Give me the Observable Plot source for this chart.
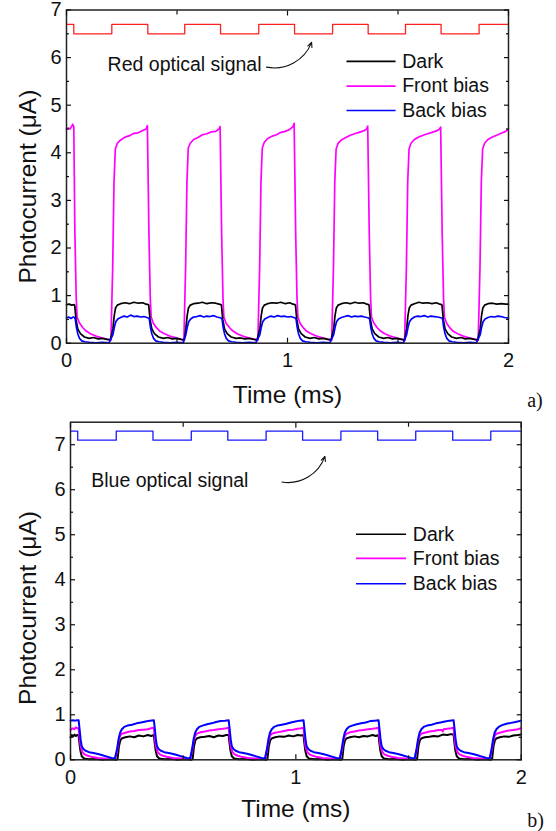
<!DOCTYPE html>
<html>
<head>
<meta charset="utf-8">
<script src="https://cdn.jsdelivr.net/npm/d3@7"></script>
<script src="https://cdn.jsdelivr.net/npm/@observablehq/plot@0.6"></script>
<style>
  body { margin: 0; background: #fff; }
  #chart svg { display: block; }
</style>
</head>
<body>
<div id="chart"></div>
<script>
// ---------- DATA ----------
const seriesNames = ["Dark", "Front bias", "Back bias"];
const xTickLabels = [0, 1, 2];
const yTicksA = [0, 1, 2, 3, 4, 5, 6, 7];
const yTicksB = [0, 1, 2, 3, 4, 5, 6, 7];
const signalLabelA = "Red optical signal";
const signalLabelB = "Blue optical signal";

// optical signal switching times (ms) and levels (µA scale)
const redT = [0, 0.033, 0.205, 0.368, 0.535, 0.697, 0.870, 1.032, 1.204, 1.365, 1.534, 1.695, 1.867, 2];
const redV = [6.7, 6.5, 6.7, 6.5, 6.7, 6.5, 6.7, 6.5, 6.7, 6.5, 6.7, 6.5, 6.7, 6.7];
const blueT = [0, 0.032, 0.203, 0.366, 0.536, 0.698, 0.868, 1.030, 1.200, 1.363, 1.532, 1.696, 1.865, 2];
const blueV = [7.3, 7.1, 7.3, 7.1, 7.3, 7.1, 7.3, 7.1, 7.3, 7.1, 7.3, 7.1, 7.3, 7.3];

// Panel a) red light
const frontA = [[0,4.5],[0.008,4.52],[0.016,4.5],[0.024,4.56],[0.028,4.6],[0.033,4.55],
[0.038,2.3],[0.044,0.95],[0.048,0.55],[0.058,0.43],[0.073,0.33],[0.088,0.26],[0.108,0.2],[0.133,0.15],[0.163,0.11],[0.188,0.08],[0.201,0.06],
[0.209,1.6],[0.215,3.4],[0.221,4.08],[0.23,4.2],[0.245,4.27],[0.265,4.33],[0.285,4.36],[0.305,4.41],[0.325,4.42],[0.345,4.47],[0.36,4.5],[0.366,4.57],
[0.373,2.3],[0.379,0.95],[0.383,0.55],[0.393,0.42],[0.408,0.32],[0.423,0.25],[0.443,0.2],[0.468,0.15],[0.498,0.11],[0.52,0.08],[0.531,0.05],
[0.539,1.6],[0.545,3.4],[0.551,4.1],[0.56,4.2],[0.575,4.28],[0.595,4.32],[0.615,4.38],[0.635,4.4],[0.655,4.44],[0.675,4.45],[0.69,4.5],[0.695,4.55],
[0.702,2.3],[0.708,0.95],[0.712,0.55],[0.722,0.42],[0.737,0.33],[0.752,0.26],[0.772,0.2],[0.797,0.15],[0.827,0.11],[0.852,0.08],[0.866,0.06],
[0.874,1.6],[0.88,3.4],[0.886,4.1],[0.895,4.22],[0.91,4.3],[0.93,4.35],[0.95,4.38],[0.97,4.43],[0.99,4.45],[1.01,4.49],[1.025,4.55],[1.03,4.62],
[1.037,2.3],[1.043,0.95],[1.047,0.55],[1.057,0.42],[1.072,0.32],[1.087,0.25],[1.107,0.2],[1.132,0.15],[1.162,0.11],[1.187,0.08],[1.2,0.06],
[1.208,1.6],[1.214,3.4],[1.22,4.08],[1.229,4.2],[1.244,4.27],[1.264,4.32],[1.284,4.37],[1.304,4.4],[1.324,4.43],[1.344,4.46],[1.358,4.5],[1.363,4.56],
[1.37,2.3],[1.376,0.95],[1.38,0.55],[1.39,0.43],[1.405,0.33],[1.42,0.26],[1.44,0.2],[1.465,0.15],[1.495,0.11],[1.52,0.08],[1.53,0.06],
[1.538,1.6],[1.544,3.4],[1.55,4.08],[1.559,4.2],[1.574,4.28],[1.594,4.33],[1.614,4.37],[1.634,4.4],[1.654,4.43],[1.674,4.46],[1.688,4.5],[1.693,4.54],
[1.7,2.3],[1.706,0.95],[1.71,0.55],[1.72,0.42],[1.735,0.32],[1.75,0.25],[1.77,0.2],[1.795,0.15],[1.825,0.11],[1.85,0.08],[1.863,0.06],
[1.871,1.6],[1.877,3.4],[1.883,4.08],[1.892,4.2],[1.907,4.28],[1.927,4.33],[1.947,4.37],[1.967,4.41],[1.987,4.45],[2,4.5]];

const darkA = [[0,0.81],[0.012,0.82],[0.024,0.8],[0.034,0.81],
[0.037,0.8],[0.043,0.5],[0.051,0.3],[0.063,0.2],[0.081,0.13],[0.103,0.1],[0.123,0.12],[0.143,0.09],[0.163,0.1],[0.183,0.08],[0.198,0.07],
[0.21,0.3],[0.216,0.58],[0.222,0.74],[0.23,0.8],[0.245,0.83],[0.265,0.85],[0.285,0.83],[0.305,0.86],[0.325,0.84],[0.345,0.85],[0.36,0.82],[0.37,0.81],
[0.372,0.8],[0.378,0.5],[0.386,0.3],[0.398,0.2],[0.416,0.13],[0.438,0.1],[0.458,0.12],[0.478,0.09],[0.498,0.1],[0.518,0.08],[0.533,0.07],
[0.54,0.3],[0.546,0.58],[0.552,0.74],[0.56,0.8],[0.575,0.83],[0.595,0.84],[0.615,0.86],[0.635,0.83],[0.655,0.85],[0.675,0.84],[0.69,0.82],[0.699,0.81],
[0.701,0.8],[0.707,0.5],[0.715,0.3],[0.727,0.2],[0.745,0.13],[0.767,0.1],[0.787,0.11],[0.807,0.09],[0.827,0.1],[0.847,0.08],[0.862,0.07],
[0.875,0.3],[0.881,0.58],[0.887,0.74],[0.895,0.8],[0.91,0.83],[0.93,0.85],[0.95,0.84],[0.97,0.86],[0.99,0.83],[1.01,0.85],[1.025,0.82],[1.034,0.81],
[1.036,0.8],[1.042,0.5],[1.05,0.3],[1.062,0.2],[1.08,0.13],[1.102,0.1],[1.122,0.12],[1.142,0.09],[1.162,0.1],[1.182,0.08],[1.197,0.07],
[1.209,0.3],[1.215,0.58],[1.221,0.74],[1.229,0.8],[1.244,0.83],[1.264,0.85],[1.284,0.83],[1.304,0.86],[1.324,0.84],[1.344,0.85],[1.359,0.82],[1.367,0.81],
[1.369,0.8],[1.375,0.5],[1.383,0.3],[1.395,0.2],[1.413,0.13],[1.435,0.1],[1.455,0.12],[1.475,0.09],[1.495,0.1],[1.515,0.08],[1.53,0.07],
[1.539,0.3],[1.545,0.58],[1.551,0.74],[1.559,0.8],[1.574,0.83],[1.594,0.86],[1.614,0.84],[1.634,0.85],[1.654,0.83],[1.674,0.85],[1.689,0.82],[1.697,0.81],
[1.699,0.8],[1.705,0.5],[1.713,0.3],[1.725,0.2],[1.743,0.13],[1.765,0.1],[1.785,0.12],[1.805,0.09],[1.825,0.1],[1.845,0.08],[1.86,0.07],
[1.872,0.3],[1.878,0.58],[1.884,0.74],[1.892,0.8],[1.907,0.83],[1.927,0.84],[1.947,0.82],[1.967,0.83],[1.987,0.82],[2,0.82]];

const backA = [[0,0.53],[0.01,0.55],[0.02,0.52],[0.03,0.55],[0.036,0.54],
[0.04,0.5],[0.045,0.33],[0.051,0.2],[0.059,0.1],[0.069,0.05],[0.083,0.03],[0.103,0.02],[0.133,0.01],[0.163,0.02],[0.193,0.01],
[0.21,0.18],[0.216,0.33],[0.223,0.45],[0.232,0.51],[0.245,0.54],[0.26,0.57],[0.275,0.55],[0.29,0.59],[0.305,0.56],[0.32,0.57],[0.335,0.55],[0.35,0.56],[0.371,0.53],
[0.375,0.5],[0.38,0.33],[0.386,0.2],[0.394,0.1],[0.404,0.05],[0.418,0.03],[0.438,0.02],[0.468,0.01],[0.498,0.02],[0.528,0.01],
[0.54,0.18],[0.546,0.33],[0.553,0.45],[0.562,0.51],[0.575,0.55],[0.59,0.56],[0.605,0.58],[0.62,0.55],[0.635,0.57],[0.65,0.56],[0.665,0.58],[0.68,0.55],[0.7,0.53],
[0.704,0.5],[0.709,0.33],[0.715,0.2],[0.723,0.1],[0.733,0.05],[0.747,0.03],[0.767,0.02],[0.797,0.01],[0.827,0.02],[0.857,0.01],
[0.875,0.18],[0.881,0.33],[0.888,0.45],[0.897,0.51],[0.91,0.54],[0.925,0.57],[0.94,0.55],[0.955,0.58],[0.97,0.56],[0.985,0.57],[1.0,0.55],[1.015,0.56],[1.035,0.53],
[1.039,0.5],[1.044,0.33],[1.05,0.2],[1.058,0.1],[1.068,0.05],[1.082,0.03],[1.102,0.02],[1.132,0.01],[1.162,0.02],[1.192,0.01],
[1.209,0.18],[1.215,0.33],[1.222,0.45],[1.231,0.51],[1.244,0.54],[1.259,0.56],[1.274,0.58],[1.289,0.55],[1.304,0.57],[1.319,0.56],[1.334,0.57],[1.349,0.55],[1.368,0.53],
[1.372,0.5],[1.377,0.33],[1.383,0.2],[1.391,0.1],[1.401,0.05],[1.415,0.03],[1.435,0.02],[1.465,0.01],[1.495,0.02],[1.525,0.01],
[1.539,0.18],[1.545,0.33],[1.552,0.45],[1.561,0.51],[1.574,0.55],[1.589,0.57],[1.604,0.56],[1.619,0.58],[1.634,0.55],[1.649,0.57],[1.664,0.56],[1.679,0.55],[1.698,0.53],
[1.702,0.5],[1.707,0.33],[1.713,0.2],[1.721,0.1],[1.731,0.05],[1.745,0.03],[1.765,0.02],[1.795,0.01],[1.825,0.02],[1.855,0.01],
[1.872,0.18],[1.878,0.33],[1.885,0.45],[1.894,0.51],[1.907,0.54],[1.922,0.56],[1.937,0.55],[1.952,0.57],[1.967,0.56],[1.982,0.54],[2,0.53]];

// Panel b) blue light
const darkB = [[0,0.5],[0.006,0.55],[0.012,0.52],[0.018,0.56],[0.024,0.53],[0.03,0.55],[0.036,0.54],
[0.039,0.4],[0.044,0.2],[0.05,0.08],[0.06,0.03],[0.082,0.01],[0.112,0.02],[0.142,0.0],[0.172,0.01],[0.203,0.0],
[0.209,0.02],[0.215,0.3],[0.221,0.43],[0.229,0.48],[0.243,0.5],[0.263,0.52],[0.283,0.5],[0.303,0.54],[0.323,0.52],[0.343,0.55],[0.358,0.53],[0.37,0.55],
[0.373,0.4],[0.378,0.2],[0.384,0.08],[0.394,0.03],[0.416,0.01],[0.446,0.02],[0.476,0.0],[0.506,0.01],[0.536,0.0],
[0.542,0.02],[0.548,0.3],[0.554,0.43],[0.562,0.48],[0.576,0.5],[0.596,0.51],[0.616,0.53],[0.636,0.5],[0.656,0.54],[0.676,0.53],[0.691,0.55],[0.702,0.55],
[0.705,0.4],[0.71,0.2],[0.716,0.08],[0.726,0.03],[0.748,0.01],[0.778,0.02],[0.808,0.0],[0.838,0.01],[0.868,0.0],
[0.874,0.02],[0.88,0.3],[0.886,0.43],[0.894,0.48],[0.908,0.5],[0.928,0.52],[0.948,0.51],[0.968,0.54],[0.988,0.52],[1.008,0.55],[1.023,0.54],[1.034,0.55],
[1.037,0.4],[1.042,0.2],[1.048,0.08],[1.058,0.03],[1.08,0.01],[1.11,0.02],[1.14,0.0],[1.17,0.01],[1.2,0.0],
[1.206,0.02],[1.212,0.3],[1.218,0.43],[1.226,0.48],[1.24,0.5],[1.26,0.52],[1.28,0.5],[1.3,0.53],[1.32,0.52],[1.34,0.55],[1.355,0.53],[1.367,0.55],
[1.37,0.4],[1.375,0.2],[1.381,0.08],[1.391,0.03],[1.413,0.01],[1.443,0.02],[1.473,0.0],[1.503,0.01],[1.532,0.0],
[1.538,0.02],[1.544,0.3],[1.55,0.43],[1.558,0.48],[1.572,0.5],[1.592,0.51],[1.612,0.53],[1.632,0.52],[1.652,0.56],[1.672,0.55],[1.688,0.57],[1.7,0.56],
[1.703,0.4],[1.708,0.2],[1.714,0.08],[1.724,0.03],[1.746,0.01],[1.776,0.02],[1.806,0.0],[1.836,0.01],[1.865,0.0],
[1.871,0.02],[1.877,0.3],[1.883,0.43],[1.891,0.48],[1.905,0.5],[1.925,0.52],[1.945,0.51],[1.965,0.54],[1.985,0.55],[2,0.56]];

const frontB = [[0,0.66],[0.008,0.7],[0.016,0.68],[0.024,0.72],[0.03,0.7],[0.036,0.7],
[0.04,0.5],[0.045,0.3],[0.052,0.18],[0.062,0.12],[0.077,0.09],[0.097,0.06],[0.122,0.04],[0.152,0.03],[0.182,0.02],[0.198,0.02],
[0.207,0.2],[0.213,0.4],[0.22,0.53],[0.228,0.58],[0.243,0.6],[0.263,0.63],[0.283,0.64],[0.303,0.66],[0.323,0.67],[0.343,0.68],[0.358,0.7],[0.37,0.71],
[0.374,0.5],[0.379,0.3],[0.386,0.18],[0.396,0.12],[0.411,0.09],[0.431,0.06],[0.456,0.04],[0.486,0.03],[0.516,0.02],[0.531,0.02],
[0.54,0.2],[0.546,0.4],[0.553,0.53],[0.561,0.58],[0.576,0.61],[0.596,0.63],[0.616,0.65],[0.636,0.66],[0.656,0.68],[0.676,0.69],[0.691,0.7],[0.702,0.71],
[0.706,0.5],[0.711,0.3],[0.718,0.18],[0.728,0.12],[0.743,0.09],[0.763,0.06],[0.788,0.04],[0.818,0.03],[0.848,0.02],[0.863,0.02],
[0.872,0.2],[0.878,0.4],[0.885,0.53],[0.893,0.58],[0.908,0.6],[0.928,0.62],[0.948,0.64],[0.968,0.66],[0.988,0.67],[1.008,0.69],[1.023,0.7],[1.034,0.71],
[1.038,0.5],[1.043,0.3],[1.05,0.18],[1.06,0.12],[1.075,0.09],[1.095,0.06],[1.12,0.04],[1.15,0.03],[1.18,0.02],[1.195,0.02],
[1.204,0.2],[1.21,0.4],[1.217,0.53],[1.225,0.58],[1.24,0.61],[1.26,0.63],[1.28,0.65],[1.3,0.66],[1.32,0.68],[1.34,0.69],[1.355,0.7],[1.367,0.71],
[1.371,0.5],[1.376,0.3],[1.383,0.18],[1.393,0.12],[1.408,0.09],[1.428,0.06],[1.453,0.04],[1.483,0.03],[1.513,0.02],[1.527,0.02],
[1.536,0.2],[1.542,0.4],[1.549,0.53],[1.557,0.58],[1.572,0.6],[1.592,0.63],[1.612,0.64],[1.632,0.66],[1.648,0.66],[1.652,0.63],[1.656,0.68],[1.672,0.69],[1.688,0.7],[1.7,0.71],
[1.704,0.5],[1.709,0.3],[1.716,0.18],[1.726,0.12],[1.741,0.09],[1.761,0.06],[1.786,0.04],[1.816,0.03],[1.846,0.02],[1.86,0.02],
[1.869,0.2],[1.875,0.4],[1.882,0.53],[1.89,0.58],[1.905,0.6],[1.925,0.63],[1.945,0.65],[1.965,0.66],[1.985,0.68],[2,0.7]];

const backB = [[0,0.87],[0.01,0.88],[0.02,0.87],[0.03,0.88],[0.036,0.88],
[0.04,0.7],[0.045,0.45],[0.05,0.3],[0.057,0.24],[0.067,0.2],[0.082,0.17],[0.102,0.15],[0.122,0.13],[0.142,0.1],[0.162,0.07],[0.182,0.04],[0.197,0.03],
[0.207,0.25],[0.213,0.45],[0.22,0.6],[0.228,0.68],[0.238,0.73],[0.253,0.76],[0.273,0.78],[0.293,0.81],[0.313,0.83],[0.333,0.85],[0.353,0.87],[0.37,0.88],
[0.374,0.7],[0.379,0.45],[0.384,0.3],[0.391,0.24],[0.401,0.2],[0.416,0.17],[0.436,0.15],[0.456,0.13],[0.476,0.1],[0.496,0.07],[0.516,0.04],[0.531,0.03],
[0.54,0.25],[0.546,0.45],[0.553,0.6],[0.561,0.68],[0.571,0.73],[0.586,0.76],[0.606,0.79],[0.626,0.81],[0.646,0.84],[0.666,0.86],[0.686,0.87],[0.702,0.88],
[0.706,0.7],[0.711,0.45],[0.716,0.3],[0.723,0.24],[0.733,0.2],[0.748,0.17],[0.768,0.15],[0.788,0.13],[0.808,0.1],[0.828,0.07],[0.848,0.04],[0.863,0.03],
[0.872,0.25],[0.878,0.45],[0.885,0.6],[0.893,0.68],[0.903,0.73],[0.918,0.76],[0.938,0.78],[0.958,0.8],[0.978,0.83],[0.998,0.85],[1.018,0.87],[1.034,0.88],
[1.038,0.7],[1.043,0.45],[1.048,0.3],[1.055,0.24],[1.065,0.2],[1.08,0.17],[1.1,0.15],[1.12,0.13],[1.14,0.1],[1.16,0.07],[1.18,0.04],[1.195,0.03],
[1.204,0.25],[1.21,0.45],[1.217,0.6],[1.225,0.68],[1.235,0.73],[1.25,0.76],[1.27,0.79],[1.29,0.81],[1.31,0.83],[1.33,0.86],[1.35,0.87],[1.367,0.88],
[1.371,0.7],[1.376,0.45],[1.381,0.3],[1.388,0.24],[1.398,0.2],[1.413,0.17],[1.433,0.15],[1.453,0.13],[1.473,0.1],[1.493,0.07],[1.513,0.04],[1.527,0.03],
[1.536,0.25],[1.542,0.45],[1.549,0.6],[1.557,0.68],[1.567,0.73],[1.582,0.76],[1.602,0.78],[1.622,0.81],[1.642,0.83],[1.662,0.85],[1.682,0.87],[1.7,0.88],
[1.704,0.7],[1.709,0.45],[1.714,0.3],[1.721,0.24],[1.731,0.2],[1.746,0.17],[1.766,0.15],[1.786,0.13],[1.806,0.1],[1.826,0.07],[1.846,0.04],[1.86,0.03],
[1.869,0.25],[1.875,0.45],[1.882,0.6],[1.89,0.68],[1.9,0.73],[1.915,0.77],[1.935,0.8],[1.955,0.82],[1.975,0.84],[2,0.87]];

// ---------- DRAWING ----------
const COLORS = {"Dark": "#000000", "Front bias": "#ff00ff", "Back bias": "#0000ff"};
const FONT = "'Liberation Sans', Arial, Helvetica, sans-serif";
const fmt = d => String(d);

function rows(arr) { return arr.map(([t, v]) => ({t, v})); }

function panel(cfg) {
  const marks = [];
  marks.push(Plot.line(cfg.sigT.map((t, i) => ({t, v: cfg.sigV[i]})),
    {x: "t", y: "v", curve: "step-after", stroke: cfg.sigColor, strokeWidth: 1.3}));
  for (const [name, arr] of cfg.series) {
    marks.push(Plot.line(rows(arr), {x: "t", y: "v", stroke: COLORS[name], strokeWidth: cfg.traceWidth}));
  }
  seriesNames.forEach((name, i) => {
    marks.push(Plot.link([name], {x1: cfg.legX1, x2: cfg.legX2, y1: cfg.legY[i], y2: cfg.legY[i],
      stroke: COLORS[name], strokeWidth: 1.6}));
    marks.push(Plot.text([name], {x: cfg.legTX, y: cfg.legY[i], text: d => d, textAnchor: "start",
      lineAnchor: "middle", fontSize: 19.5, fill: "#111"}));
  });
  marks.push(Plot.text([cfg.sigLabel], {x: cfg.sigLX, y: cfg.sigLY, text: d => d, textAnchor: "start",
    lineAnchor: "middle", fontSize: 19.5, fill: "#111"}));
  marks.push(Plot.arrow([0], {x1: cfg.arr[0], y1: cfg.arr[1], x2: cfg.arr[2], y2: cfg.arr[3],
    bend: cfg.bend, stroke: "#111", strokeWidth: 1.1, headLength: 7, headAngle: 50}));
  marks.push(Plot.frame({stroke: "#222", strokeWidth: 1.5}));
  marks.push(Plot.axisY({anchor: "left", ticks: cfg.yTicks, tickSize: 0, tickPadding: 5, label: null,
    fontSize: 20, tickFormat: fmt}));
  marks.push(Plot.axisX({anchor: "bottom", ticks: xTickLabels, tickSize: 0, tickPadding: 10, label: null,
    fontSize: 20, tickFormat: fmt}));
  const yMinor = cfg.yTicks.slice(0, -1).map(d => d + 0.5);
  for (const a of ["left", "right"]) {
    marks.push(Plot.axisY({anchor: a, ticks: cfg.yTicks, tickSize: -5, tickFormat: () => "", label: null, strokeWidth: 1.2}));
    marks.push(Plot.axisY({anchor: a, ticks: yMinor, tickSize: -3, tickFormat: () => "", label: null, strokeWidth: 1.2}));
  }
  for (const a of ["top", "bottom"]) {
    marks.push(Plot.axisX({anchor: a, ticks: xTickLabels, tickSize: -5, tickFormat: () => "", label: null, strokeWidth: 1.2}));
    marks.push(Plot.axisX({anchor: a, ticks: [0.5, 1.5], tickSize: -4, tickFormat: () => "", label: null, strokeWidth: 1.2}));
  }
  marks.push(Plot.text(["Photocurrent (\u03bcA)"], {frameAnchor: "left", rotate: -90, dx: cfg.yTitleDx, dy: cfg.yTitleDy,
    textAnchor: "middle", lineAnchor: "middle", text: d => d, fontSize: 24.5, fill: "#111"}));
  marks.push(Plot.text(["Time (ms)"], {frameAnchor: "bottom", dy: cfg.xTitleDy, textAnchor: "middle", lineAnchor: "middle",
    text: d => d, fontSize: 24.5, fill: "#111"}));
  marks.push(Plot.text([cfg.tag], {frameAnchor: "bottom-right", textAnchor: "start", lineAnchor: "bottom",
    dx: cfg.tagDx, dy: cfg.tagDy, text: d => d, fontSize: 20, fontFamily: "'Liberation Serif', 'Times New Roman', serif", fill: "#111"}));

  return Plot.plot({
    width: 556,
    height: cfg.height,
    marginTop: cfg.mt, marginBottom: cfg.mb, marginLeft: cfg.ml, marginRight: cfg.mr,
    style: {fontFamily: FONT, fontSize: "20px", color: "#111", background: "#fff", overflow: "visible"},
    x: {domain: [0, 2]},
    y: {domain: cfg.yDomain},
    marks
  });
}

const chart = document.getElementById("chart");

chart.appendChild(panel({
  height: 415, mt: 9.5, mb: 72.3, ml: 66, mr: 48, yDomain: [0, 7], yTicks: yTicksA,
  sigT: redT, sigV: redV, sigColor: "#ff2020", traceWidth: 1.7,
  series: [["Front bias", frontA], ["Dark", darkA], ["Back bias", backA]],
  legX1: 1.267, legX2: 1.489, legTX: 1.519, legY: [5.92, 5.40, 4.89],
  sigLabel: signalLabelA, sigLX: 0.186, sigLY: 5.86,
  arr: [0.905, 5.80, 1.109, 6.32], bend: -40,
  yTitleDx: -38, yTitleDy: 10, xTitleDy: 51.5,
  tag: "a)", tagDx: 18.7, tagDy: 64
}));

chart.appendChild(panel({
  height: 416, mt: 6.7, mb: 71.7, ml: 70, mr: 35.3, yDomain: [0, 7.5], yTicks: yTicksB,
  sigT: blueT, sigV: blueV, sigColor: "#1a1aff", traceWidth: 2,
  series: [["Dark", darkB], ["Front bias", frontB], ["Back bias", backB]],
  legX1: 1.267, legX2: 1.489, legTX: 1.519, legY: [5.01, 4.475, 3.91],
  sigLabel: signalLabelB, sigLX: 0.092, sigLY: 6.19,
  arr: [0.938, 6.17, 1.129, 6.74], bend: -40,
  yTitleDx: -42, yTitleDy: 17, xTitleDy: 49.5,
  tag: "b)", tagDx: 6, tagDy: 66.7
}));
</script>
</body>
</html>
